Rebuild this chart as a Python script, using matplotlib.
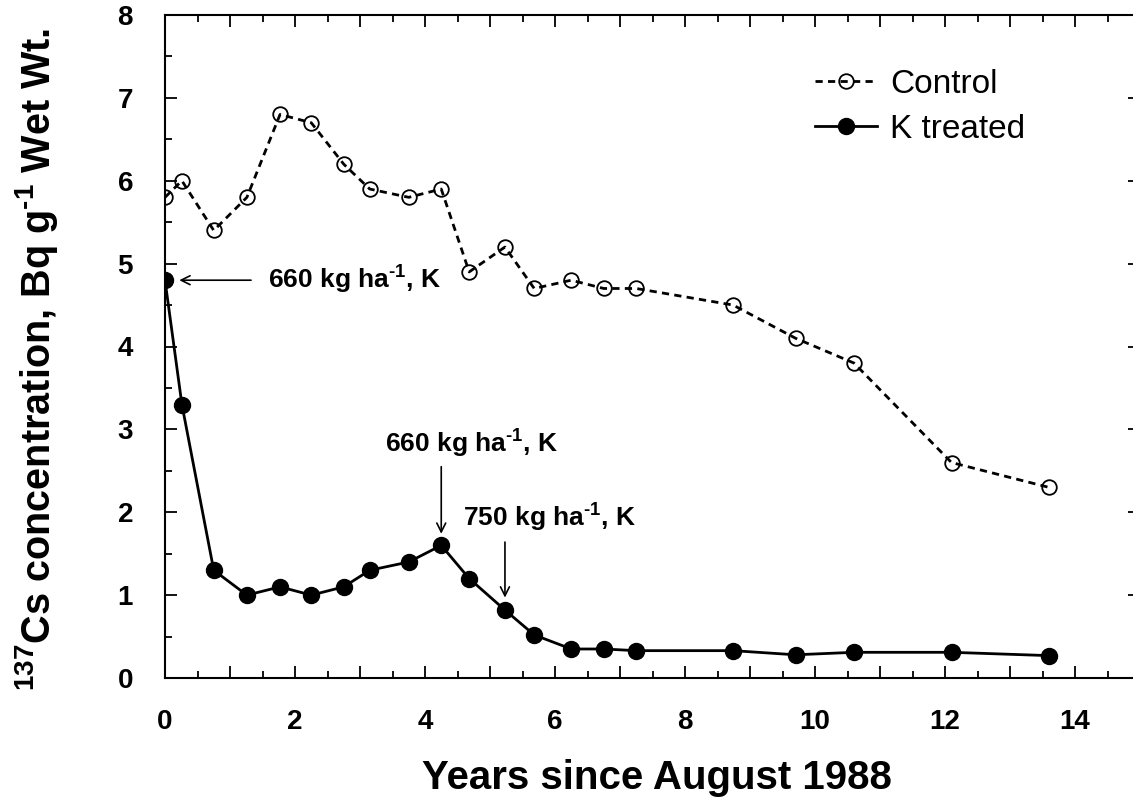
import matplotlib
matplotlib.use('Agg')
import matplotlib.pyplot as plt
from matplotlib.ticker import MultipleLocator, FuncFormatter

plt.rcParams['font.family'] = ['Liberation Sans', 'DejaVu Sans']
plt.rcParams['mathtext.fontset'] = 'custom'
plt.rcParams['mathtext.rm'] = 'Liberation Sans:bold'
plt.rcParams['mathtext.bf'] = 'Liberation Sans:bold'
plt.rcParams['mathtext.default'] = 'bf'

# years since August 1988
years = [0.0, 0.26, 0.75, 1.26, 1.77, 2.25, 2.75, 3.15, 3.75, 4.25, 4.68,
         5.23, 5.68, 6.25, 6.75, 7.25, 8.74, 9.7, 10.6, 12.1, 13.6]
control = [5.8, 6.0, 5.4, 5.8, 6.8, 6.7, 6.2, 5.9, 5.8, 5.9, 4.9,
           5.2, 4.7, 4.8, 4.7, 4.7, 4.5, 4.1, 3.8, 2.6, 2.3]
k_treated = [4.8, 3.3, 1.3, 1.0, 1.1, 1.0, 1.1, 1.3, 1.4, 1.6, 1.2,
             0.82, 0.52, 0.35, 0.35, 0.33, 0.33, 0.28, 0.31, 0.31, 0.27]

# K applications: (rate, x, y of point)
applications = [('660', 0.0, 4.8), ('660', 4.25, 1.6), ('750', 5.23, 0.82)]
sup = r' kg ha$^{\text{-1}}$, K'

fig = plt.figure(figsize=(11.33, 8), dpi=100)
ax = fig.add_axes([165 / 1133, 122 / 800, 975 / 1133, 663 / 800])

ax.plot(years, control, color='black', lw=2.0, dashes=[2.6, 1.9],
        marker='o', ms=10.5, mfc='none', mec='black', mew=1.3, label='Control')
ax.plot(years, k_treated, color='black', lw=2.0, marker='o', ms=11.5,
        mfc='black', mec='black', label='K treated')

ax.set_xlim(0, 15)
ax.set_ylim(0, 8)
ax.xaxis.set_major_locator(MultipleLocator(1))
ax.xaxis.set_minor_locator(MultipleLocator(0.5))
ax.xaxis.set_major_formatter(FuncFormatter(lambda v, p: '%d' % v if int(round(v)) % 2 == 0 else ''))
ax.yaxis.set_major_locator(MultipleLocator(1))
ax.yaxis.set_minor_locator(MultipleLocator(0.5))
ax.tick_params(which='both', direction='in', top=True, right=True, width=1.3)
ax.tick_params(which='major', length=8.5, labelsize=20)
ax.tick_params(axis='x', which='major', pad=22)
ax.tick_params(axis='y', which='major', pad=23)
ax.tick_params(which='minor', length=5)
for lab in ax.get_xticklabels() + ax.get_yticklabels():
    lab.set_fontweight('bold')
for s in ax.spines.values():
    s.set_linewidth(1.5)

ax.set_xlabel('Years since August 1988', fontsize=29, fontweight='bold', va='center')
ax.xaxis.set_label_coords(0.505, -0.151)
ax.set_ylabel(r'$^{137}$Cs concentration, Bq g$^{\text{-1}}$ Wet Wt.', fontsize=28.5,
              fontweight='bold', va='center')
ax.yaxis.set_label_coords(-0.132, 0.48)

arrow = dict(arrowstyle='->', color='black', lw=1.2, mutation_scale=16)
rate0, x0, y0 = applications[0]
ax.annotate(rate0 + sup, xy=(x0 + 0.22, y0), xytext=(1.58, y0),
            fontsize=19, fontweight='bold', va='center', ha='left',
            arrowprops=dict(arrow, shrinkA=10, shrinkB=0))
rate1, x1, y1 = applications[1]
ax.annotate(rate1 + sup, xy=(x1, y1), xytext=(4.71, 2.83),
            fontsize=19, fontweight='bold', va='center', ha='center')
ax.annotate('', xy=(x1, y1 + 0.14), xytext=(x1, 2.55), arrowprops=dict(arrow, shrinkA=0, shrinkB=0))
rate2, x2, y2 = applications[2]
ax.annotate(rate2 + sup, xy=(x2, y2), xytext=(4.58, 1.93),
            fontsize=19, fontweight='bold', va='center', ha='left')
ax.annotate('', xy=(x2, y2 + 0.15), xytext=(x2, 1.64), arrowprops=dict(arrow, shrinkA=0, shrinkB=0))

ax.legend(loc='upper left', bbox_to_anchor=(815 / 1133, 1 - 69 / 800),
          bbox_transform=fig.transFigure, frameon=False, fontsize=24,
          handlelength=1.85, handletextpad=0.4, labelspacing=0.42,
          borderpad=0, borderaxespad=0)

fig.savefig('out.png', dpi=100)
